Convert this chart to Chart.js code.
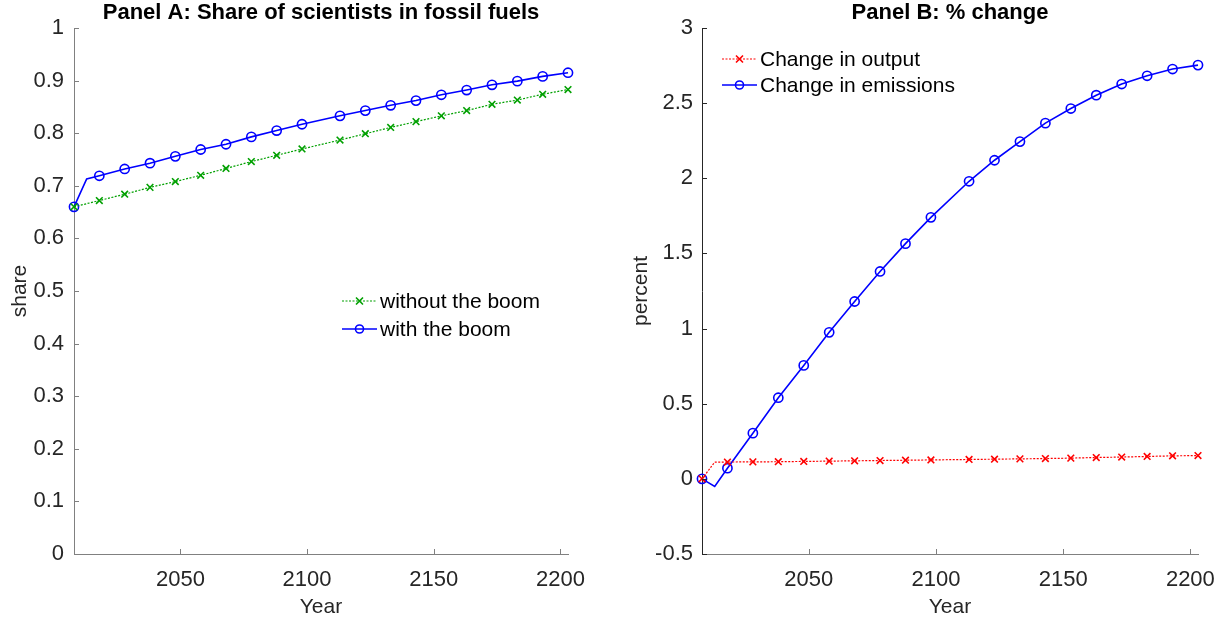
<!DOCTYPE html>
<html>
<head>
<meta charset="utf-8">
<script src="https://cdn.jsdelivr.net/npm/chart.js@4/dist/chart.umd.min.js"></script>
<style>
  html, body { margin: 0; padding: 0; background: #fff; }
  #wrap { position: relative; width: 1228px; height: 620px; }
  canvas { position: absolute; top: 0; }
</style>
</head>
<body>
<div id="wrap">
  <canvas id="panelA" width="614" height="620" style="left:0"></canvas>
  <canvas id="panelB" width="614" height="620" style="left:614px"></canvas>
</div>
<script>
/* Data */
let years = [2008, 2013, 2018, 2028, 2038, 2048, 2058, 2068, 2078, 2088, 2098,
             2113, 2123, 2133, 2143, 2153, 2163, 2173, 2183, 2193, 2203]
// the 2013 point is a plain kink in the line, no marker drawn there
let kinkYears = [2013]
let xTicks = [2050, 2100, 2150, 2200]

// Panel A: share of scientists in fossil fuels
let shareWithoutBoom = [0.660, 0.666, 0.672, 0.684, 0.697, 0.708, 0.720, 0.733, 0.746, 0.758, 0.770,
                        0.787, 0.799, 0.811, 0.822, 0.833, 0.843, 0.855, 0.863, 0.874, 0.883]
let shareWithBoom = [0.660, 0.713, 0.719, 0.732, 0.743, 0.756, 0.769, 0.779, 0.793, 0.805, 0.817,
                     0.833, 0.843, 0.853, 0.862, 0.873, 0.882, 0.892, 0.899, 0.908, 0.915]

// Panel B: % change
let changeOutput = [0, 0.111, 0.112, 0.113, 0.114, 0.116, 0.118, 0.120, 0.122, 0.124, 0.126,
                    0.129, 0.131, 0.133, 0.135, 0.138, 0.142, 0.145, 0.149, 0.153, 0.155]
let changeEmissions = [0, -0.051, 0.071, 0.304, 0.54, 0.755, 0.975, 1.18, 1.38, 1.565, 1.74,
                       1.98, 2.12, 2.244, 2.367, 2.464, 2.553, 2.627, 2.682, 2.727, 2.753]

let labelsA = ['without the boom', 'with the boom']
let labelsB = ['Change in output', 'Change in emissions']

const FONT = '"Liberation Sans", Arial, Helvetica, sans-serif'
const TEXT = '#262626'

function toPoints(vals) {
    return years.map((yr, i) => ({ x: yr, y: vals[i] }))
}

// hide the marker on kink points
function markerRadius(r) {
    return function(c) {
        return kinkYears.includes(years[c.dataIndex]) ? 0 : r
    }
}

function crossSeries(label, vals, color) {
    return {
        label: label,
        data: toPoints(vals),
        borderColor: color,
        borderWidth: 1.2,
        borderDash: [2, 1.5],
        pointStyle: 'crossRot',
        pointRadius: markerRadius(4.7),
        pointBorderWidth: 1.6,
        pointBorderColor: color,
        pointBackgroundColor: color,
        tension: 0,
        clip: false
    }
}

function circleSeries(label, vals, color) {
    return {
        label: label,
        data: toPoints(vals),
        borderColor: color,
        borderWidth: 1.6,
        pointStyle: 'circle',
        pointRadius: markerRadius(4.6),
        pointBorderWidth: 1.6,
        pointBorderColor: color,
        pointBackgroundColor: 'rgba(0,0,0,0)',
        tension: 0,
        clip: false
    }
}

// Title centred over the plot box, like MATLAB does
const axesTitle = {
    id: 'axesTitle',
    afterDraw(chart, args, opts) {
        let ctx = chart.ctx
        let area = chart.chartArea
        ctx.save()
        ctx.fillStyle = '#000'
        ctx.font = 'bold 22px ' + FONT
        ctx.textAlign = 'center'
        ctx.textBaseline = 'middle'
        ctx.fillText(opts.text, (area.left + area.right) / 2, opts.y)
        ctx.restore()
    }
}

// MATLAB style ticks pointing into the plot area
const innerTicks = {
    id: 'innerTicks',
    afterDraw(chart, args, opts) {
        let ctx = chart.ctx
        let area = chart.chartArea
        let sx = chart.scales.x
        let sy = chart.scales.y
        ctx.save()
        ctx.lineWidth = 1
        ctx.strokeStyle = opts.xColor
        sx.ticks.forEach(t => {
            let px = Math.round(sx.getPixelForValue(t.value)) + 0.5
            ctx.beginPath()
            ctx.moveTo(px, area.bottom)
            ctx.lineTo(px, area.bottom - 5)
            ctx.stroke()
        })
        ctx.strokeStyle = opts.yColor
        sy.ticks.forEach(t => {
            let py = Math.round(sy.getPixelForValue(t.value)) + 0.5
            ctx.beginPath()
            ctx.moveTo(area.left, py)
            ctx.lineTo(area.left + 5, py)
            ctx.stroke()
        })
        ctx.restore()
    }
}

// Legend without a box, line sample with the marker in the middle
const sampleLegend = {
    id: 'sampleLegend',
    afterDraw(chart, args, opts) {
        let ctx = chart.ctx
        ctx.save()
        chart.data.datasets.forEach((ds, i) => {
            let y = opts.y + i * opts.rowGap
            let x0 = opts.x
            let x1 = opts.x + opts.len
            let xm = (x0 + x1) / 2
            ctx.strokeStyle = ds.borderColor
            ctx.lineWidth = ds.borderWidth
            ctx.setLineDash(ds.borderDash || [])
            ctx.beginPath()
            ctx.moveTo(x0, y)
            ctx.lineTo(x1, y)
            ctx.stroke()
            ctx.setLineDash([])
            ctx.lineWidth = ds.pointBorderWidth
            ctx.beginPath()
            if (ds.pointStyle === 'circle') {
                ctx.arc(xm, y, 4, 0, Math.PI * 2)
            } else {
                ctx.moveTo(xm - 3.5, y - 3.5); ctx.lineTo(xm + 3.5, y + 3.5)
                ctx.moveTo(xm - 3.5, y + 3.5); ctx.lineTo(xm + 3.5, y - 3.5)
            }
            ctx.stroke()
            ctx.fillStyle = '#000'
            ctx.font = '21px ' + FONT
            ctx.textBaseline = 'middle'
            ctx.fillText(ds.label, x1 + 3, y + 1)
        })
        ctx.restore()
    }
}

function makeOptions(cfg) {
    return {
        responsive: false,
        animation: false,
        layout: { padding: { left: 0, right: cfg.padRight, top: 28, bottom: 0 } },
        plugins: {
            legend: { display: false },
            tooltip: { enabled: false },
            title: { display: false },
            axesTitle: { text: cfg.title, y: 13 },
            innerTicks: { xColor: cfg.xAxisColor, yColor: cfg.yAxisColor },
            sampleLegend: cfg.legend
        },
        scales: {
            x: {
                type: 'linear',
                min: 2008,
                max: 2203,
                afterBuildTicks: s => { s.ticks = xTicks.map(v => ({ value: v })) },
                afterFit: s => { s.height = 66; s.paddingLeft = 0; s.paddingRight = 0 },
                ticks: {
                    color: TEXT,
                    padding: 13,
                    maxRotation: 0,
                    font: { family: FONT, size: 22 },
                    callback: v => String(v)
                },
                grid: { display: true, drawOnChartArea: false, drawTicks: false },
                border: { color: cfg.xAxisColor, width: 1 },
                title: {
                    display: true,
                    text: 'Year',
                    color: TEXT,
                    font: { family: FONT, size: 21 },
                    padding: { top: 0, bottom: 0.5 }
                }
            },
            y: {
                min: cfg.yMin,
                max: cfg.yMax,
                afterFit: s => { s.width = cfg.yWidth; s.paddingTop = 0; s.paddingBottom = 0 },
                ticks: {
                    stepSize: cfg.yStep,
                    color: TEXT,
                    padding: cfg.yTickPad,
                    font: { family: FONT, size: 22 },
                    callback: v => String(Math.round(v * 10) / 10)
                },
                grid: { display: true, drawOnChartArea: false, drawTicks: false },
                border: { color: cfg.yAxisColor, width: 1 },
                title: {
                    display: true,
                    text: cfg.yTitle,
                    color: TEXT,
                    font: { family: FONT, size: 21 },
                    padding: { top: cfg.yTitlePad, bottom: 0 }
                }
            }
        }
    }
}

let chartA = new Chart(document.querySelector('#panelA').getContext('2d'), {
    type: 'line',
    data: {
        datasets: [
            crossSeries(labelsA[0], shareWithoutBoom, 'rgb(0,160,0)'),
            circleSeries(labelsA[1], shareWithBoom, '#0000ff')
        ]
    },
    options: makeOptions({
        title: 'Panel A: Share of scientists in fossil fuels',
        padRight: 46,
        yMin: 0, yMax: 1, yStep: 0.1,
        yWidth: 74, yTickPad: 10, yTitle: 'share', yTitlePad: 7.4,
        xAxisColor: '#808080', yAxisColor: '#808080',
        legend: { x: 342, y: 301, rowGap: 28, len: 35 }
    }),
    plugins: [axesTitle, innerTicks, sampleLegend]
})

let chartB = new Chart(document.querySelector('#panelB').getContext('2d'), {
    type: 'line',
    data: {
        datasets: [
            crossSeries(labelsB[0], changeOutput, '#ff0000'),
            circleSeries(labelsB[1], changeEmissions, '#0000ff')
        ]
    },
    options: makeOptions({
        title: 'Panel B: % change',
        padRight: 30,
        yMin: -0.5, yMax: 3, yStep: 0.5,
        yWidth: 88, yTickPad: 9, yTitle: 'percent', yTitlePad: 15,
        xAxisColor: '#808080', yAxisColor: '#262626',
        legend: { x: 108, y: 59, rowGap: 26, len: 35 }
    }),
    plugins: [axesTitle, innerTicks, sampleLegend]
})
</script>
</body>
</html>
